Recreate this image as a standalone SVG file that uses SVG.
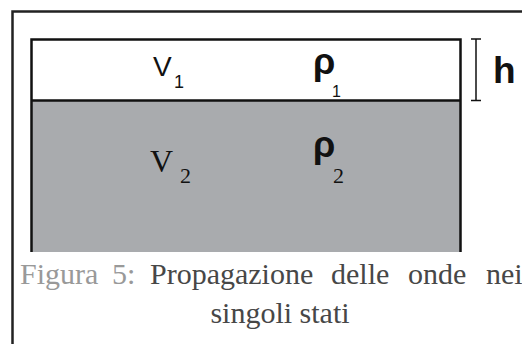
<svg xmlns="http://www.w3.org/2000/svg" width="522" height="344" viewBox="0 0 522 344">
<style>
.frame{fill:none;stroke:#222;stroke-width:2.5}
.edge{fill:none;stroke:#111;stroke-width:2.5}
.br{fill:none;stroke:#111;stroke-width:1.5}
.sans{font-family:"Liberation Sans",Arial,sans-serif;fill:#111}
.serif{font-family:"Liberation Serif","Times New Roman",serif;fill:#111}
.cap{font-family:"Liberation Serif","Times New Roman",serif;font-size:30px;fill:#474747}
.lbl{fill:#999}
</style>
<rect width="522" height="344" fill="#fff"/>
<path class="frame" d="M12.5,344 V11.5 H522"/>
<g id="layer1">
<rect x="31.5" y="39.5" width="429" height="61" fill="#fff"/>
<text class="sans" x="153" y="76" font-size="28">V</text>
<text class="sans" x="174" y="88" font-size="18">1</text>
<text class="sans" x="313" y="74" font-size="36" font-weight="bold">ρ</text>
<text class="sans" x="332" y="97" font-size="16">1</text>
</g>
<g id="layer2">
<rect x="31.5" y="100.5" width="429" height="151.5" fill="#a9abae"/>
<text class="serif" x="150" y="172" font-size="32">V</text>
<text class="serif" x="180" y="183" font-size="22">2</text>
<text class="sans" x="313" y="157" font-size="36" font-weight="bold">ρ</text>
<text class="serif" x="333" y="183" font-size="22">2</text>
</g>
<g id="connectors">
<path class="edge" d="M31.5,252 V39.5 H460.5 V252 M31.5,100.5 H460.5"/>
<path class="br" d="M476,39 V100.5 M471,39 H481 M471,100.5 H481"/>
</g>
<text class="sans" x="493" y="83" font-size="37" font-weight="bold">h</text>
<text class="cap" y="284"><tspan class="lbl" x="20">Figura</tspan><tspan class="lbl" x="112">5:</tspan><tspan x="150">Propagazione</tspan><tspan x="331">delle</tspan><tspan x="408">onde</tspan><tspan x="486">nei</tspan></text>
<text class="cap" x="280" y="323" text-anchor="middle">singoli stati</text>
</svg>
